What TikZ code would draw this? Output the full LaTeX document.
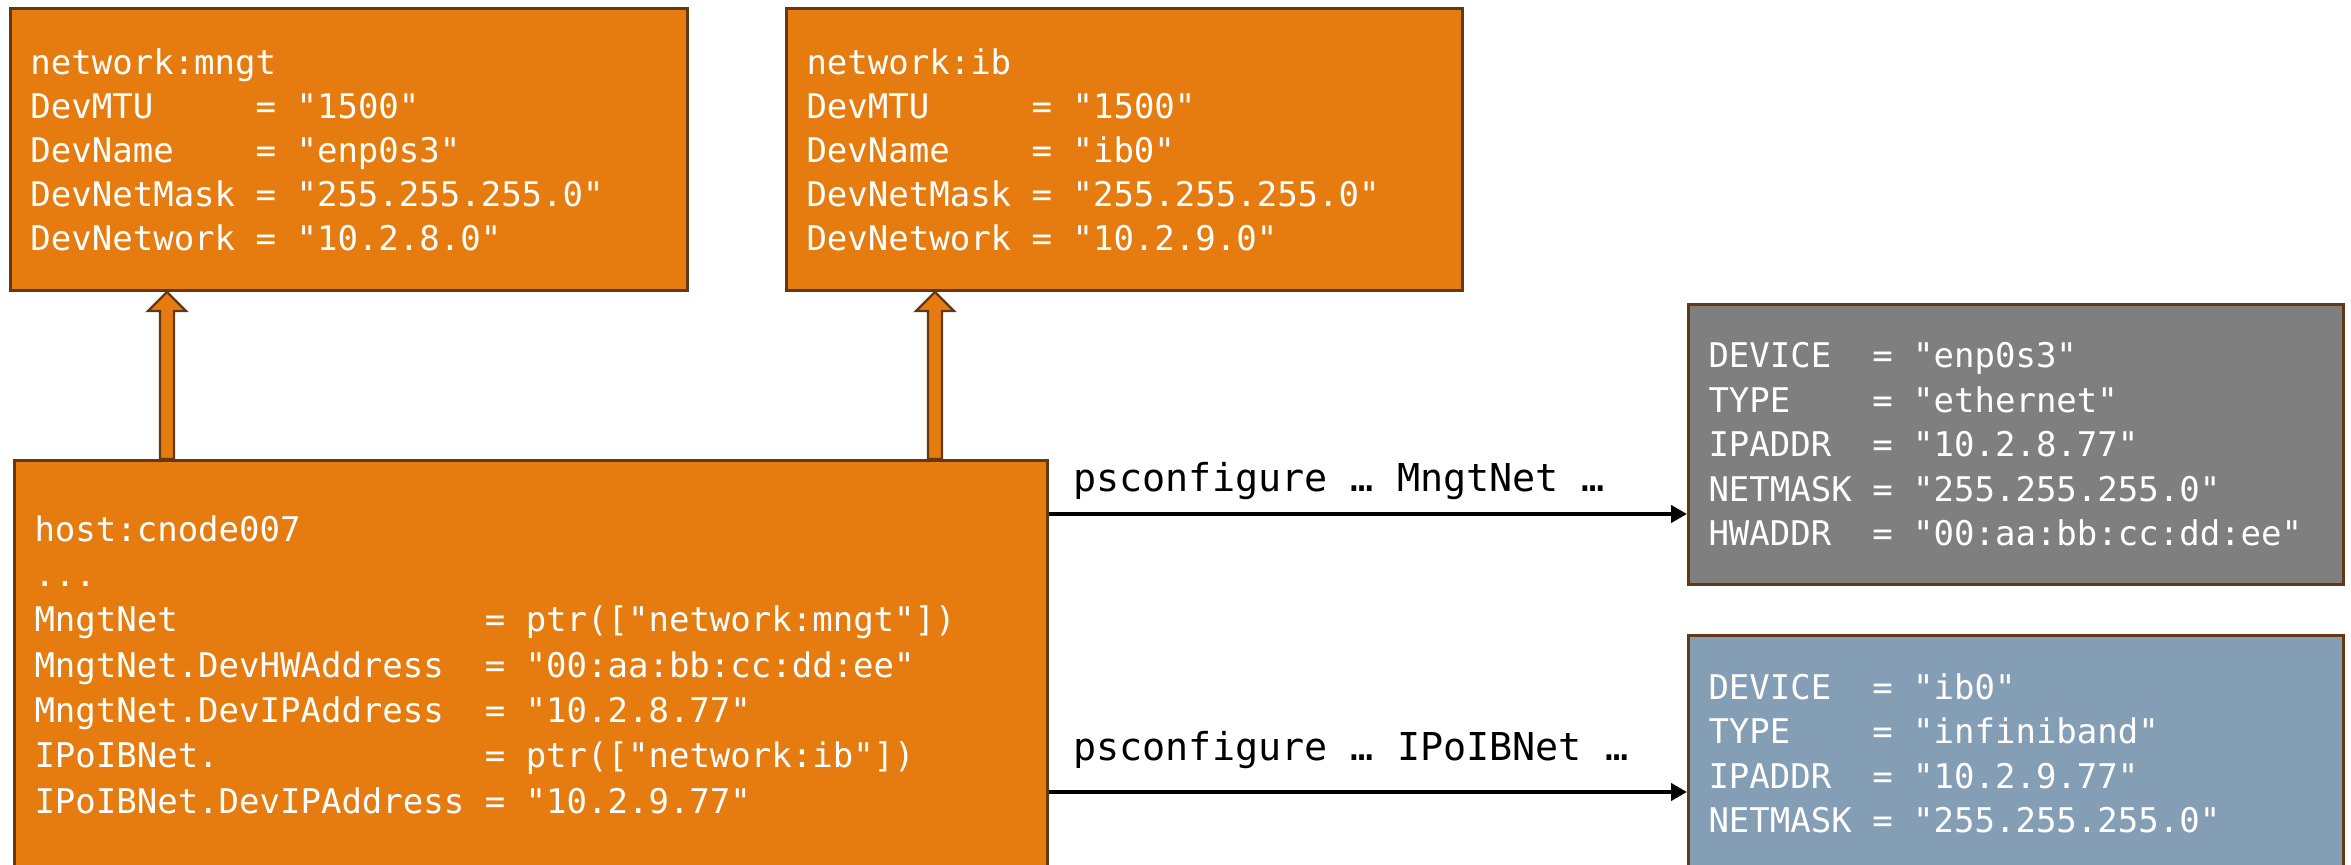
\documentclass[tikz,border=0pt]{standalone}
\usepackage{fontspec}
\setmonofont{DejaVu Sans Mono}
\usetikzlibrary{arrows.meta,calc}

\definecolor{boxorange}{HTML}{E67C10}
\definecolor{boxedge}{HTML}{633812}
\definecolor{boxgray}{HTML}{7F7F7F}
\definecolor{boxblue}{HTML}{849EB6}

\tikzset{
  cfgbox/.style={rectangle, draw=boxedge, line width=1.5pt, anchor=north west,
    inner xsep=10pt, inner ysep=0pt, text=white, align=flush left,
    font=\ttfamily\fontsize{17}{22}\selectfont},
  blockarrow/.style={fill=boxorange, draw=boxedge, line width=1.2pt, line join=miter},
  cfgarrow/.style={line width=2pt, -{Triangle[length=8pt,width=8.5pt]}},
  cmdlabel/.style={inner sep=0pt, anchor=base west, text=black,
    font=\ttfamily\fontsize{19.2}{23}\selectfont}
}

\begin{document}
\begin{tikzpicture}[x=0.5pt, y=-0.5pt]
\useasboundingbox (0,0) rectangle (2351,865);
\clip (0,0) rectangle (2351,865);

% network objects
\node[cfgbox, fill=boxorange, minimum width=338.5pt, minimum height=141pt, text width=318.5pt]
  (net1) at (9,7)
  {network:mngt\\
   DevMTU~~~~~=~"1500"\\
   DevName~~~~=~"enp0s3"\\
   DevNetMask~=~"255.255.255.0"\\
   DevNetwork~=~"10.2.8.0"};

\node[cfgbox, fill=boxorange, minimum width=338pt, minimum height=141pt, text width=318pt]
  (net2) at (785,7)
  {network:ib\\
   DevMTU~~~~~=~"1500"\\
   DevName~~~~=~"ib0"\\
   DevNetMask~=~"255.255.255.0"\\
   DevNetwork~=~"10.2.9.0"};

% host object
\node[cfgbox, fill=boxorange, minimum width=516.5pt, minimum height=204pt, text width=496.5pt,
      font=\ttfamily\fontsize{17}{22.65}\selectfont]
  (host) at (13,459)
  {host:cnode007\\
   ...\\
   MngtNet~~~~~~~~~~~~~~~=~ptr(["network:mngt"])\\
   MngtNet.DevHWAddress~~=~"00:aa:bb:cc:dd:ee"\\
   MngtNet.DevIPAddress~~=~"10.2.8.77"\\
   IPoIBNet.~~~~~~~~~~~~~=~ptr(["network:ib"])\\
   IPoIBNet.DevIPAddress~=~"10.2.9.77"};

% generated interface configurations
\node[cfgbox, fill=boxgray, minimum width=327.5pt, minimum height=140pt, text width=307.5pt,
      font=\ttfamily\fontsize{17}{22.25}\selectfont]
  (eth) at (1687,303)
  {DEVICE~~=~"enp0s3"\\
   TYPE~~~~=~"ethernet"\\
   IPADDR~~=~"10.2.8.77"\\
   NETMASK~=~"255.255.255.0"\\
   HWADDR~~=~"00:aa:bb:cc:dd:ee"};

\node[cfgbox, fill=boxblue, minimum width=327.5pt, minimum height=117.85pt, text width=307.5pt,
      font=\ttfamily\fontsize{17}{22.25}\selectfont]
  (ib) at (1687,634)
  {DEVICE~~=~"ib0"\\
   TYPE~~~~=~"infiniband"\\
   IPADDR~~=~"10.2.9.77"\\
   NETMASK~=~"255.255.255.0"};

% block arrows from the host to its networks
\coordinate (c1) at (167,0);
\coordinate (c2) at (935,0);
\foreach \c/\n in {c1/net1, c2/net2}{
  \draw[blockarrow]
    ($(\c|-host.north)+(-7,0)$) -- ($(\c|-\n.south)+(-7,19)$) -- ++(-12,0)
    -- (\c|-\n.south)
    -- ($(\c|-\n.south)+(19,19)$) -- ++(-12,0)
    -- ($(\c|-host.north)+(7,0)$) -- cycle;
}

% psconfigure commands
\coordinate (r1) at (0,514);
\coordinate (r2) at (0,792);
\draw[cfgarrow] (r1 -| host.east) -- (r1 -| eth.west);
\draw[cfgarrow] (r2 -| host.east) -- (r2 -| ib.west);
\node[cmdlabel] (cmd1) at (1073,492) {psconfigure … MngtNet …};
\node[cmdlabel] (cmd2) at (1073,760) {psconfigure … IPoIBNet …};
\end{tikzpicture}
\end{document}
